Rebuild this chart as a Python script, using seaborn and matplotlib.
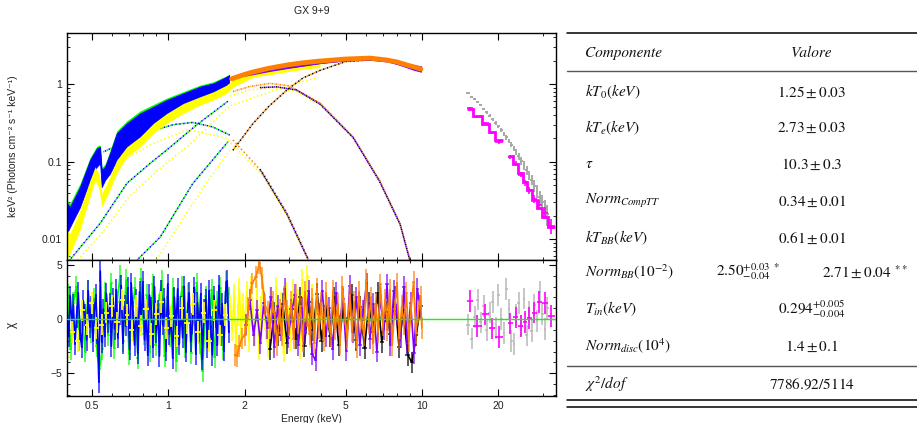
import numpy as np
import matplotlib
matplotlib.use("Agg")
import matplotlib.pyplot as plt
from matplotlib.lines import Line2D
from matplotlib.ticker import LogLocator, NullFormatter, MultipleLocator
import seaborn as sns

# ---------------- spectrum (top panel) ----------------
# low energy instruments: band edges (upper / lower)
e_blue = [0.40, 0.411, 0.45, 0.493, 0.524, 0.54, 0.548, 0.565, 0.59, 0.628, 0.688,
          0.776, 0.875, 0.988, 1.149, 1.337, 1.508, 1.70, 1.74]
blue_hi = [0.029, 0.026, 0.047, 0.105, 0.148, 0.155, 0.078, 0.086, 0.127, 0.231, 0.311,
           0.418, 0.509, 0.622, 0.759, 0.925, 1.02, 1.24, 1.31]
blue_lo = [0.012, 0.0144, 0.026, 0.058, 0.086, 0.095, 0.047, 0.058, 0.070, 0.105, 0.155,
           0.209, 0.281, 0.379, 0.462, 0.563, 0.686, 0.837, 0.88]
green_hi = [0.032, 0.029, 0.052, 0.113, 0.158, 0.165, 0.084, 0.093, 0.137, 0.25, 0.335,
            0.45, 0.545, 0.66, 0.8, 0.97, 1.07, 1.28, 1.33]
green_lo = [0.013, 0.0155, 0.028, 0.062, 0.092, 0.1, 0.05, 0.062, 0.075, 0.112, 0.165,
            0.222, 0.296, 0.4, 0.485, 0.59, 0.715, 0.86, 0.9]

e_yellow = [0.40, 0.411, 0.45, 0.493, 0.516, 0.535, 0.548, 0.565, 0.59, 0.628, 0.688,
            0.776, 0.875, 0.988, 1.149, 1.337, 1.508, 1.70, 1.81, 2.16, 2.94, 3.4, 3.97]
yellow_hi = [0.0131, 0.0118, 0.0237, 0.0577, 0.0857, 0.07, 0.0389, 0.0473, 0.0637, 0.1045,
             0.155, 0.209, 0.311, 0.418, 0.563, 0.686, 0.796, 0.97, 1.15, 1.44, 1.71, 1.8, 1.88]
yellow_lo = [0.0056, 0.0065, 0.0131, 0.0351, 0.0577, 0.045, 0.0261, 0.0319, 0.0429, 0.0703,
             0.115, 0.155, 0.231, 0.311, 0.418, 0.536, 0.622, 0.759, 0.92, 1.22, 1.44, 1.55, 1.64]

# medium energy instruments
e_orange = [1.78, 2.0, 2.16, 2.5, 2.94, 3.4, 3.97, 5.0, 6.24, 7.27, 8.0, 8.72, 9.3, 9.9]
orange_flux = [1.17, 1.33, 1.43, 1.6, 1.76, 1.88, 1.98, 2.1, 2.16, 2.04, 1.92, 1.76, 1.66, 1.56]
e_purple = [2.0, 2.5, 3.0, 4.0, 5.0, 6.2, 7.3, 8.0, 8.7, 9.3, 9.95]
purple_hi = [1.36, 1.56, 1.74, 1.98, 2.15, 2.25, 2.12, 1.98, 1.85, 1.78, 1.72]
purple_lo = [1.26, 1.45, 1.6, 1.84, 1.98, 2.03, 1.92, 1.78, 1.62, 1.5, 1.42]
e_black = [2.5, 3.0, 4.0, 5.0, 6.2, 7.3, 8.7, 9.9]
black_flux = [1.52, 1.66, 1.9, 2.05, 2.12, 2.01, 1.74, 1.52]

# hard x-ray instruments
e_grey = [15.2, 15.7, 16.1, 16.6, 17.0, 17.5, 18.0, 18.5, 19.0, 19.5, 20.0, 20.5, 21.0,
          21.5, 22.0, 22.5, 23.0, 23.5, 24.0, 24.6, 25.2, 25.8, 26.4, 27.0, 27.7, 28.4,
          29.1, 29.8, 30.5, 31.2]
grey_flux = [0.76, 0.69, 0.64, 0.58, 0.53, 0.48, 0.43, 0.39, 0.35, 0.315, 0.285, 0.255,
             0.23, 0.205, 0.185, 0.165, 0.148, 0.133, 0.118, 0.103, 0.09, 0.078, 0.067,
             0.058, 0.049, 0.042, 0.035, 0.03, 0.025, 0.021]
grey_relerr = [0.02, 0.02, 0.02, 0.025, 0.03, 0.03, 0.035, 0.04, 0.04, 0.045, 0.05, 0.055,
               0.06, 0.065, 0.07, 0.075, 0.08, 0.09, 0.1, 0.11, 0.12, 0.13, 0.14, 0.15,
               0.17, 0.19, 0.21, 0.24, 0.27, 0.3]
mag_lo = [15.1, 15.9, 17.2, 18.3, 19.4, 21.8, 22.8, 23.9, 25.0, 26.0, 27.0, 28.3, 29.6, 31.3]
mag_hi = [15.9, 17.2, 18.3, 19.4, 20.9, 22.8, 23.9, 25.0, 26.0, 27.0, 28.3, 29.6, 31.3, 33.3]
mag_model = [0.47, 0.386, 0.31, 0.24, 0.19, 0.118, 0.093, 0.071, 0.055, 0.043, 0.032, 0.025,
             0.0194, 0.0144]
mag_flux = [0.49, 0.38, 0.315, 0.235, 0.18, 0.115, 0.094, 0.068, 0.054, 0.043, 0.033, 0.028,
            0.022, 0.015]
mag_relerr = [0.03, 0.03, 0.04, 0.04, 0.05, 0.06, 0.07, 0.08, 0.09, 0.1, 0.12, 0.14, 0.17, 0.22]

# model components (dotted)
disk_L_e = [0.555, 0.7, 0.87, 1.05, 1.25, 1.5, 1.75]
disk_L_v = [0.133, 0.19, 0.25, 0.3, 0.32, 0.28, 0.22]
bb_L_e = [0.41, 0.54, 0.69, 0.85, 1.02, 1.3, 1.72]
bb_L_v = [0.0054, 0.016, 0.053, 0.095, 0.154, 0.3, 0.6]
comp_L_e = [0.755, 0.93, 1.25, 1.72]
comp_L_v = [0.0054, 0.0106, 0.052, 0.18]

yel_rise_e = [0.44, 0.55, 0.7, 0.9, 1.2, 1.75, 2.4, 3.2, 3.9]
yel_rise_v = [0.0054, 0.012, 0.035, 0.075, 0.16, 0.52, 0.75, 1.02, 1.22]
yel_bb_e = [1.75, 2.1, 2.6, 3.2, 3.9]
yel_bb_v = [0.7, 0.84, 0.9, 0.8, 0.55]
yel_disk_e = [0.6, 0.87, 1.2, 1.7, 2.37, 2.94, 3.56]
yel_disk_v = [0.085, 0.17, 0.26, 0.2, 0.065, 0.02, 0.0054]
yel_comp_e = [0.9, 1.1, 1.4, 1.75]
yel_comp_v = [0.0054, 0.015, 0.05, 0.14]

comp_M_e = [1.8, 2.16, 2.5, 2.94, 3.4, 3.97, 5.0, 6.2, 7.5, 8.7, 9.9]
comp_M_v = [0.14, 0.31, 0.52, 0.84, 1.2, 1.5, 1.95, 2.04, 1.98, 1.82, 1.55]
bb_Mo_e = [1.8, 2.1, 2.52, 3.0, 3.97, 5.35, 6.8, 8.2, 8.95]
bb_Mo_v = [0.8, 0.93, 1.02, 0.95, 0.57, 0.21, 0.058, 0.016, 0.0055]
bb_Mp_e = [2.3, 2.68, 3.2, 3.97, 5.35, 6.8, 8.2, 8.95]
bb_Mp_v = [0.9, 0.92, 0.84, 0.55, 0.205, 0.056, 0.0155, 0.0054]
disk_Mo_e = [1.8, 2.37, 2.94, 3.56]
disk_Mo_v = [0.19, 0.071, 0.022, 0.0057]
disk_Mp_e = [2.3, 2.94, 3.56]
disk_Mp_v = [0.08, 0.021, 0.0055]

# ---------------- residuals (chi) ----------------
e_blue_res = [0.400, 0.406, 0.412, 0.418, 0.424, 0.430, 0.436, 0.443, 0.450, 0.457,
              0.464, 0.471, 0.478, 0.485, 0.492, 0.499, 0.506, 0.513, 0.520, 0.527,
              0.534, 0.541, 0.548, 0.556, 0.564, 0.572, 0.580, 0.589, 0.598, 0.607,
              0.616, 0.625, 0.634, 0.644, 0.654, 0.664, 0.674, 0.684, 0.694, 0.705,
              0.716, 0.727, 0.738, 0.749, 0.760, 0.772, 0.784, 0.796, 0.808, 0.820,
              0.832, 0.845, 0.858, 0.871, 0.884, 0.897, 0.911, 0.925, 0.939, 0.953,
              0.967, 0.982, 0.997, 1.012, 1.027, 1.043, 1.059, 1.075, 1.091, 1.107,
              1.124, 1.141, 1.158, 1.175, 1.193, 1.211, 1.229, 1.248, 1.267, 1.286,
              1.305, 1.325, 1.345, 1.365, 1.386, 1.407, 1.428, 1.450, 1.472, 1.494,
              1.517, 1.540, 1.563, 1.586, 1.610, 1.634, 1.659, 1.684, 1.709, 1.735]
blue_res = [0.8, -1.6, 2.1, -0.4, 1.3, -2.3, 0.2, 2.4, -1.1, -2.6,
            1.7, 0.4, -1.9, 2.6, -0.7, 1.1, -2.0, 0.6, 2.2, -1.3,
            -5.8, 4.4, -2.1, 0.9, -1.6, 2.3, -0.3, 1.4, -2.5, 1.9,
            -0.9, 2.7, -1.7, 0.5, 3.1, -2.2, 1.2, -0.6, 2.9, -2.8,
            3.3, 0.7, -2.4, 1.8, -3.1, 2.5, -0.2, 3.4, -1.9, 0.4,
            -3.3, 2.2, 1.0, -2.6, 3.0, -1.2, 0.8, -3.4, 2.6, -0.5,
            1.9, -2.9, 3.2, -1.4, 0.3, -3.6, 2.0, -0.8, 2.8, -2.3,
            1.1, -1.7, 3.0, -3.0, 0.6, 2.4, -2.0, -0.4, 2.9, -3.2,
            1.5, -1.1, 2.3, -3.7, 0.9, 1.8, -2.6, 2.6, -0.7, -3.3,
            2.1, 0.2, -2.4, 3.1, -1.5, 1.4, -2.9, 2.5, 3.5, -1.2]
e_green_res = [0.402, 0.413, 0.424, 0.435, 0.447, 0.459, 0.471, 0.484, 0.497, 0.510,
               0.523, 0.537, 0.551, 0.566, 0.581, 0.597, 0.613, 0.630, 0.647, 0.665,
               0.683, 0.702, 0.721, 0.741, 0.761, 0.782, 0.803, 0.825, 0.847, 0.870,
               0.894, 0.918, 0.943, 0.969, 0.995, 1.022, 1.050, 1.078, 1.107, 1.137,
               1.168, 1.200, 1.232, 1.265, 1.299, 1.334, 1.370, 1.407, 1.445, 1.484,
               1.524, 1.565, 1.607, 1.650, 1.694, 1.738]
green_res = [2.2, -2.8, 1.5, 3.0, -1.9, 0.7, -3.0, 2.6, -1.2, 1.9,
             -2.5, -4.6, -2.8, 2.4, -1.5, 3.3, -2.7, 1.6, 4.0, -2.0,
             3.6, -3.2, 0.9, 2.9, -3.6, 3.7, -1.4, 2.2, -3.0, 3.2,
             -2.4, 1.3, 3.5, -3.4, 2.0, -1.6, 2.8, -3.9, 1.1, 3.0,
             -2.6, 2.3, -3.1, 1.7, 3.3, -2.2, -4.8, 2.1, -1.3, 2.7,
             -3.5, 1.6, 2.9, -2.8, 3.4, 2.0]
e_yellow_res_lo = [0.40, 0.42, 0.44, 0.46, 0.48, 0.50, 0.52, 0.55, 0.57, 0.60, 0.63, 0.66,
                   0.69, 0.72, 0.75, 0.78, 0.82, 0.86, 0.90, 0.94, 0.98, 1.03, 1.08, 1.13,
                   1.19, 1.25, 1.31, 1.38, 1.45, 1.52, 1.60, 1.68]
yellow_res_lo = [-3.5, -1.2, -2.0, 0.8, -0.5, 1.5, -0.8, -0.5, 0.6, 1.2, -0.3, 1.8, 0.4,
                 -1.0, 1.2, -0.6, 0.9, -1.4, 0.5, 1.6, -0.8, 0.3, -1.6, 1.0, -0.4, 1.4,
                 -1.2, 0.6, -2.0, 0.8, -1.5, 0.4]
e_yellow_res_hi = [1.76, 1.79, 1.82, 1.85, 1.88, 1.91, 1.94, 1.97, 2.00, 2.04,
                   2.08, 2.12, 2.16, 2.20, 2.24, 2.28, 2.32, 2.37, 2.42, 2.47,
                   2.52, 2.57, 2.62, 2.67, 2.73, 2.79, 2.85, 2.91, 2.97, 3.03,
                   3.10, 3.17, 3.24, 3.31, 3.38, 3.46, 3.54, 3.62, 3.70, 3.78, 3.86]
yellow_res_hi = [1.2, -1.0, 2.2, -2.4, 0.5, 2.8, -1.6, 1.4, -0.6, 2.5,
                 -2.0, 3.0, 0.2, -1.5, 2.6, -2.8, 1.1, 3.2, -0.9, -2.5,
                 2.0, 0.6, -2.2, 2.9, -1.2, 1.5, -3.0, 2.4, 0.3, -1.9,
                 2.7, -0.8, 1.8, -2.7, 3.6, -1.1, 4.0, -1.7, 2.2, -0.4, 1.5]
e_orange_res = [1.83, 1.87, 1.91, 1.95, 2.01, 2.07, 2.14, 2.22, 2.29, 2.34,
                2.41, 2.47, 2.52, 2.58, 2.64, 2.69, 2.75, 2.80, 2.86, 2.93,
                2.99, 3.05, 3.12, 3.18, 3.25, 3.32, 3.39, 3.46, 3.53, 3.61,
                3.69, 3.77, 3.85, 3.93, 4.01, 4.10, 4.19, 4.28, 4.37, 4.46,
                4.56, 4.66, 4.76, 4.86, 4.97, 5.08, 5.19, 5.30, 5.41, 5.53,
                5.65, 5.77, 5.90, 6.03, 6.16, 6.29, 6.43, 6.57, 6.71, 6.86,
                7.01, 7.16, 7.31, 7.47, 7.63, 7.80, 7.97, 8.14, 8.32, 8.50,
                8.68, 8.87, 9.06, 9.26, 9.46, 9.66, 9.87, 9.98]
orange_res = [-3.3, -3.4, -2.5, -1.8, -1.5, 1.0, 3.3, 3.9, 5.2, 3.8,
              1.3, 0.7, -0.8, 1.6, -0.2, -2.4, 0.9, -1.5, 2.1, 0.8,
              -0.6, 1.6, -1.8, 2.2, -0.4, 1.2, -2.0, 2.5, 0.3, -1.4,
              1.9, -2.2, 2.8, -0.8, 1.5, -1.9, 2.4, 0.2, -1.6, 2.6,
              -0.9, 1.4, -2.3, 3.0, 0.5, -1.8, 2.2, -1.1, 1.6, -2.6,
              2.5, 0.1, -1.5, 3.6, -0.4, 2.0, -2.2, 1.4, -1.2, 3.2,
              -0.6, 1.8, -1.0, 2.7, -2.4, 0.9, 3.3, -1.7, 1.2, -0.5,
              2.4, -2.0, 1.0, 3.4, -1.3, 0.6, 2.1, -0.8]
e_purple_res = [2.03, 2.10, 2.17, 2.24, 2.31, 2.38, 2.46, 2.54, 2.62, 2.70,
                2.79, 2.88, 2.97, 3.06, 3.16, 3.26, 3.36, 3.47, 3.58, 3.69,
                3.81, 3.93, 4.05, 4.18, 4.31, 4.45, 4.59, 4.73, 4.88, 5.03,
                5.19, 5.35, 5.52, 5.69, 5.87, 6.05, 6.24, 6.44, 6.64, 6.85,
                7.06, 7.28, 7.51, 7.74, 7.98, 8.23, 8.49, 8.75, 9.02, 9.30, 9.58, 9.86]
purple_res = [-0.5, 1.8, -1.5, 0.8, -2.2, 1.5, -0.8, 2.0, -2.6, 1.2,
              -1.0, 2.8, -1.7, 0.6, 2.2, -2.4, 1.0, -1.3, 2.6, -3.2,
              -3.8, 0.5, 2.6, -1.6, 1.0, -2.8, 2.4, -0.6, 1.9, -2.9,
              3.1, -1.2, 2.0, -2.4, 0.8, 3.3, -1.8, 1.4, -3.0, 2.1,
              -0.9, 3.2, -2.4, 2.6, 0.4, -1.7, 3.0, -2.2, 1.5, -3.1, 2.8, 0.9]
e_black_res = [2.52, 2.62, 2.72, 2.83, 2.94, 3.06, 3.18, 3.31, 3.44, 3.58,
               3.72, 3.87, 4.02, 4.18, 4.35, 4.52, 4.70, 4.89, 5.08, 5.28,
               5.49, 5.71, 5.94, 6.18, 6.42, 6.68, 6.94, 7.22, 7.51, 7.81,
               8.12, 8.44, 8.78, 9.13, 9.49, 9.86]
black_res = [-2.8, 0.6, -1.5, 1.4, -2.2, 0.9, -1.8, 2.0, -2.5, 1.6,
             -1.0, 2.3, -2.0, 1.2, -1.6, 2.0, -2.4, 1.0, -0.8, 2.2,
             -1.9, 1.1, -2.7, 1.5, -1.2, 2.4, -2.1, 0.7, -1.4, 2.1,
             -2.6, 0.8, -3.3, -4.0, -1.5, 1.2]
grey_res = [-0.5, -1.8, 0.2, 1.8, -0.3, 1.2, -1.0, 0.6, 1.6, -0.8, 2.2, 0.0, -1.3, 2.8, 0.9,
            -2.0, -2.3, 0.4, 1.5, -0.6, 1.9, -1.5, 0.7, -1.1, 1.3, -0.2, 2.5, 0.5, -0.9, 1.0]
mag_res = [1.7, -0.65, 0.43, -0.86, -1.64, -0.4, 0.15, -0.62, -0.25, 0.12, 0.6, 1.6, 1.5, 0.3]

# ---------------- table ----------------
row_labels = [r"$kT_0(keV)$", r"$kT_e(keV)$", r"$\tau$", r"$Norm_{CompTT}$",
              r"$kT_{BB}(keV)$", r"$Norm_{BB}(10^{-2})$", r"$T_{in}(keV)$",
              r"$Norm_{disc}(10^4)$"]
row_values = [r"$1.25 \pm 0.03$", r"$2.73 \pm 0.03$", r"$10.3 \pm 0.3$", r"$0.34 \pm 0.01$",
              r"$0.61 \pm 0.01$", None, r"$0.294^{+0.005}_{-0.004}$", r"$1.4 \pm 0.1$"]
normbb_values = [r"$2.50^{+0.03}_{-0.04}\ {}^{*}$", r"$2.71 \pm 0.04\ {}^{**}$"]
chi_label = r"$\chi^2/dof$"
chi_value = r"$7786.92/5114$"

GREEN, BLUE, YELLOW = "#00ff00", "#0000ff", "#ffff00"
ORANGE, PURPLE, GREY, MAGENTA = "#ff8000", "#8000ff", "#a8a8a8", "#ff00ff"

sns.set_theme(style="ticks")
plt.rcParams["font.family"] = ["Liberation Sans", "DejaVu Sans"]
plt.rcParams["mathtext.fontset"] = "stix"


def half_widths(e):
    e = np.asarray(e, float)
    mid = np.sqrt(e[1:] * e[:-1])
    lo = np.concatenate([[e[0] ** 2 / mid[0]], mid])
    hi = np.concatenate([mid, [e[-1] ** 2 / mid[-1]]])
    return np.vstack([e - lo, hi - e])


W, H = 917, 423
fig = plt.figure(figsize=(W / 100, H / 100), dpi=100)


def box(l, t, r, b):
    return [l / W, 1 - b / H, (r - l) / W, (b - t) / H]


ax1 = fig.add_axes(box(67, 33, 556, 260))
ax2 = fig.add_axes(box(67, 260, 556, 396), sharex=ax1)
for ax in (ax1, ax2):
    ax.set_xscale("log")
ax1.set_yscale("log")
ax1.set_xlim(0.40, 33.7)
ax1.set_ylim(0.0054, 4.55)
ax2.set_ylim(-7.1, 5.46)


def dotted(e, v, color, offset=0.0):
    sns.lineplot(x=e, y=v, ax=ax1, color=color, lw=1.1, zorder=1,
                 linestyle=(offset, (1.0, 1.6)), estimator=None, sort=False)


# model components
for c, off in ((GREEN, 0.0), (BLUE, 1.3)):
    dotted(disk_L_e, disk_L_v, c, off)
    dotted(bb_L_e, bb_L_v, c, off)
    dotted(comp_L_e, comp_L_v, c, off)
for e, v in ((yel_rise_e, yel_rise_v), (yel_bb_e, yel_bb_v), (yel_disk_e, yel_disk_v),
             (yel_comp_e, yel_comp_v)):
    dotted(e, v, YELLOW)
dotted(comp_M_e, comp_M_v, "black", 0.0)
dotted(comp_M_e, comp_M_v, ORANGE, 1.3)
dotted(bb_Mo_e, bb_Mo_v, ORANGE, 0.0)
dotted(bb_Mo_e, bb_Mo_v, "#ffc080", 1.3)
dotted(bb_Mp_e, bb_Mp_v, "black", 0.0)
dotted(bb_Mp_e, bb_Mp_v, PURPLE, 1.3)
dotted(disk_Mo_e, disk_Mo_v, ORANGE)
dotted(disk_Mp_e, disk_Mp_v, "black", 0.0)
dotted(disk_Mp_e, disk_Mp_v, PURPLE, 1.3)

# data
ax1.fill_between(e_blue, green_lo, green_hi, color=GREEN, lw=0, zorder=2)
ax1.fill_between(e_blue, blue_lo, blue_hi, color=BLUE, lw=0.6, zorder=2)
ax1.fill_between(e_yellow, yellow_lo, yellow_hi, color=YELLOW, lw=0, zorder=2)
sns.lineplot(x=e_black, y=black_flux, ax=ax1, color="black", lw=2, zorder=3)
ax1.fill_between(e_purple, purple_lo, purple_hi, color=PURPLE, lw=0, zorder=3)
sns.lineplot(x=e_orange, y=orange_flux, ax=ax1, color=ORANGE, lw=3.5, zorder=4)

gf = np.asarray(grey_flux)
ax1.errorbar(e_grey, gf, yerr=gf * np.asarray(grey_relerr), xerr=half_widths(e_grey),
             fmt="none", ecolor=GREY, elinewidth=1.4, zorder=3)

mlo, mhi = np.asarray(mag_lo), np.asarray(mag_hi)
mc = np.sqrt(mlo * mhi)
brk = [0] + [i for i in range(1, len(mlo)) if mlo[i] != mhi[i - 1]] + [len(mlo)]
for a, b in zip(brk[:-1], brk[1:]):
    ax1.stairs(mag_model[a:b], list(mlo[a:b]) + [mhi[b - 1]], color=MAGENTA, lw=2,
               baseline=None, zorder=4)
mf = np.asarray(mag_flux)
ax1.errorbar(mc, mf, yerr=mf * np.asarray(mag_relerr), xerr=[mc - mlo, mhi - mc],
             fmt="none", ecolor=MAGENTA, elinewidth=1.2, zorder=4)


# residuals
def resid(e, r, color, line=True, lw=1.3, alpha=0.7, z=2):
    ax2.errorbar(e, r, yerr=1.0, xerr=half_widths(e), fmt="none", ecolor=color,
                 elinewidth=lw, alpha=alpha, zorder=z)
    if line:
        sns.lineplot(x=e, y=r, ax=ax2, color=color, lw=1.2, zorder=z,
                     estimator=None, sort=False)


resid(e_green_res, green_res, GREEN)
resid(e_blue_res, blue_res, BLUE)
resid(e_yellow_res_lo, yellow_res_lo, YELLOW, line=False, lw=1.3, alpha=1.0)
resid(e_yellow_res_hi, yellow_res_hi, YELLOW, alpha=0.85)
resid(e_black_res, black_res, "black")
resid(e_purple_res, purple_res, PURPLE)
resid(e_orange_res, orange_res, ORANGE)
resid(e_grey, grey_res, "#b8b8b8", line=False, lw=1.1, alpha=1.0)
ax2.errorbar(mc, mag_res, yerr=1.0, xerr=[mc - mlo, mhi - mc], fmt="none",
             ecolor=MAGENTA, elinewidth=1.2, zorder=3)
ax2.axhline(0, color=GREEN, lw=1.0, zorder=10)

# axes styling
for ax in (ax1, ax2):
    for s in ax.spines.values():
        s.set_color("black")
        s.set_linewidth(1.0)
    ax.tick_params(which="both", direction="in", top=True, right=True,
                   color="black", labelsize=7.5, labelcolor="#222222")
    ax.tick_params(which="major", length=5, width=0.8)
    ax.tick_params(which="minor", length=2.5, width=0.6)
    ax.xaxis.set_minor_locator(LogLocator(base=10, subs=np.arange(2, 10)))
    ax.xaxis.set_minor_formatter(NullFormatter())

ax2.set_xticks([0.5, 1, 2, 5, 10, 20], labels=["0.5", "1", "2", "5", "10", "20"])
ax1.tick_params(labelbottom=False)
ax1.set_yticks([0.01, 0.1, 1], labels=["0.01", "0.1", "1"])
ax1.yaxis.set_minor_locator(LogLocator(base=10, subs=np.arange(2, 10)))
ax1.yaxis.set_minor_formatter(NullFormatter())
ax2.set_yticks([-5, 0, 5], labels=["\u22125", "0", "5"])
ax2.yaxis.set_minor_locator(MultipleLocator(1))

ax1.set_ylabel("keV\u00b2 (Photons cm\u207b\u00b2 s\u207b\u00b9 keV\u207b\u00b9)", fontsize=7.5,
               color="#222222")
ax1.yaxis.set_label_coords(-0.1, 0.5)
ax2.set_ylabel("\u03c7", fontsize=8.5, color="#222222")
ax2.yaxis.set_label_coords(-0.1, 0.52)
ax2.set_xlabel("Energy (keV)", fontsize=7.5, color="#222222", labelpad=2)
fig.text(311.5 / W, 1 - 11 / H, "GX 9+9", ha="center", va="center", fontsize=7.5,
         color="#222222")


# table
def tx(x, y, s, **kw):
    kw.setdefault("fontsize", 11)
    fig.text(x / W, 1 - y / H, s, va="center", color="#111111", **kw)


def rule(y, color="black", lw=1.1):
    fig.add_artist(Line2D([567 / W, 1.0], [1 - y / H] * 2, color=color, lw=lw))


rule(33)
rule(71, "#555555", 1.0)
rule(366, "#555555", 1.0)
rule(400)
rule(407)
tx(585, 53, "Componente", family="STIXGeneral", style="italic")
tx(812, 53, "Valore", ha="center", family="STIXGeneral", style="italic")
row_y = [92, 128, 164, 201, 238, 272, 309, 346]
for y, lab, val in zip(row_y, row_labels, row_values):
    tx(585, y, lab)
    if val is not None:
        tx(812, y, val, ha="center")
tx(748, 272, normbb_values[0], ha="center")
tx(865, 272, normbb_values[1], ha="center")
tx(585, 384, chi_label)
tx(812, 384, chi_value, ha="center")

fig.savefig("out.png", dpi=100)
